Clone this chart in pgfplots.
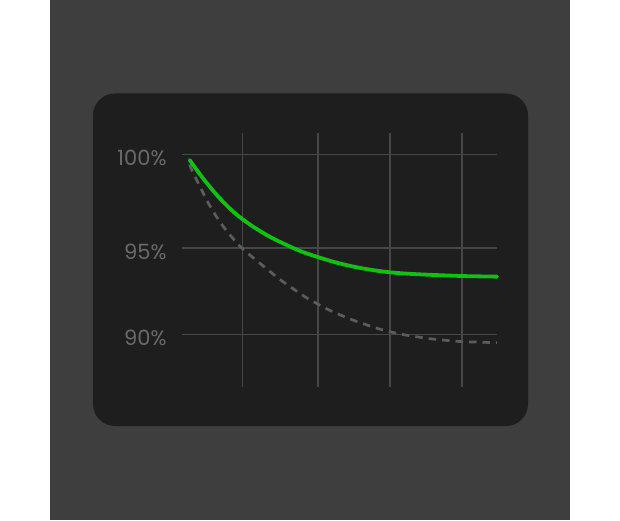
\documentclass[border=0pt]{standalone}
\usepackage{fontspec}
\setmainfont{Poppins}
\usepackage{pgfplots}
\pgfplotsset{compat=1.18}

\definecolor{outergray}{HTML}{3E3E3E}
\definecolor{panelgray}{HTML}{1E1E1E}
\definecolor{gridgray}{HTML}{474747}
\definecolor{labelgray}{HTML}{6A6A6A}
\definecolor{dashgray}{HTML}{5C5C5C}
\definecolor{linegreen}{HTML}{12C012}

\begin{document}
\begin{tikzpicture}[x=1pt,y=1pt]
  % page, outer frame and rounded panel
  \fill[white] (0,0) rectangle (620,520);
  \fill[outergray] (50,0) rectangle (570,520);
  \fill[panelgray, rounded corners=22pt] (93,94) rectangle (528,426.5);

  \begin{axis}[
    at={(182pt,133pt)}, anchor=south west,
    scale only axis,
    width=315pt, height=254pt,
    xmin=0, xmax=100,
    ymin=87.07, ymax=101.18,
    xtick={19.27,43.2,66.03,88.9},
    xticklabels={},
    ytick={90,94.8,100},
    yticklabels={90\%,95\%,100\%},
    grid=major,
    major grid style={draw=gridgray, line width=1.4pt},
    axis line style={draw=none},
    tick style={draw=none},
    yticklabel style={font=\fontsize{21}{24}\selectfont, text=labelgray, yshift=-4pt, xshift=-12pt},
    /pgf/number format/assume math mode=true,
    clip=false,
  ]
    % dashed reference curve
    \addplot[dashgray, line width=2.7pt, dash pattern=on 7.5pt off 6pt, smooth] coordinates {
      (2.48,99.43) (2.86,99.22) (5.17,98.39) (8.35,97.29) (11.52,96.38)
      (14.70,95.63) (18.95,94.79) (23.17,94.17) (27.40,93.56) (31.11,93.04)
      (35.33,92.52) (39.05,92.08) (42.76,91.71) (46.44,91.37) (50.70,91.04)
      (54.38,90.78) (58.63,90.52) (62.86,90.28) (66.03,90.14) (70.25,89.98)
      (74.51,89.86) (79.27,89.74) (85.08,89.64) (88.89,89.59) (94.6,89.56)
      (100,89.53)
    };
    % green curve
    \addplot[linegreen, line width=3.8pt, smooth, line cap=round] coordinates {
      (2.44,99.68) (6.25,98.76) (11.52,97.64) (16.83,96.72) (22.13,96.03)
      (27.40,95.46) (32.70,95.00) (38.0,94.59) (43.27,94.28) (48.57,94.00)
      (54.38,93.76) (60.0,93.58) (66.03,93.44) (73.0,93.35) (81.9,93.28)
      (90.0,93.23) (100,93.20)
    };
  \end{axis}
\end{tikzpicture}
\end{document}
